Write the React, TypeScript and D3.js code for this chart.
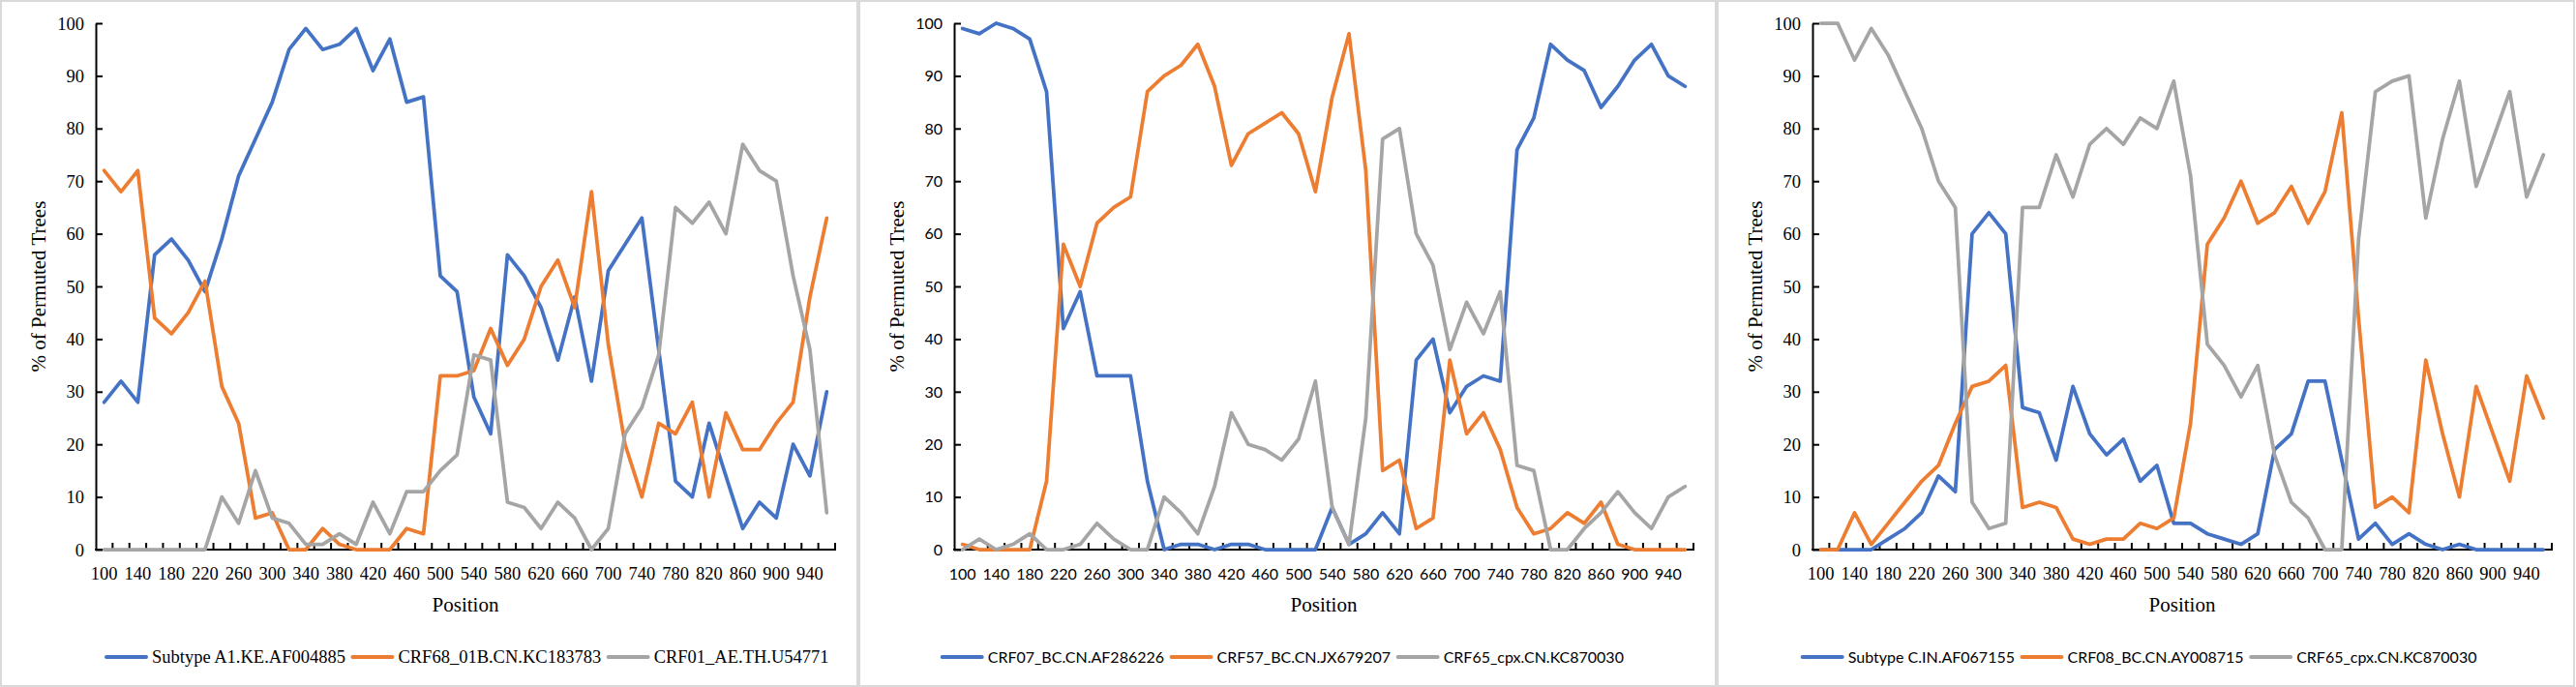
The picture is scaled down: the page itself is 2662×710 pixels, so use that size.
import React, { useEffect, useRef } from "react";
import * as d3 from "d3";

const positions = [100, 120, 140, 160, 180, 200, 220, 240, 260, 280, 300, 320, 340, 360, 380, 400, 420, 440, 460, 480, 500, 520, 540, 560, 580, 600, 620, 640, 660, 680, 700, 720, 740, 760, 780, 800, 820, 840, 860, 880, 900, 920, 940, 960];
const yTicks = [0, 10, 20, 30, 40, 50, 60, 70, 80, 90, 100];

// Panel 1
const p1Names = ["Subtype A1.KE.AF004885", "CRF68_01B.CN.KC183783", "CRF01_AE.TH.U54771"];
const p1Blue = [28, 32, 28, 56, 59, 55, 49, 59, 71, 78, 85, 95, 99, 95, 96, 99, 91, 97, 85, 86, 52, 49, 29, 22, 56, 52, 46, 36, 48, 32, 53, 58, 63, 38, 13, 10, 24, 14, 4, 9, 6, 20, 14, 30];
const p1Orange = [72, 68, 72, 44, 41, 45, 51, 31, 24, 6, 7, 0, 0, 4, 1, 0, 0, 0, 4, 3, 33, 33, 34, 42, 35, 40, 50, 55, 46, 68, 39, 20, 10, 24, 22, 28, 10, 26, 19, 19, 24, 28, 48, 63];
const p1Gray = [0, 0, 0, 0, 0, 0, 0, 10, 5, 15, 6, 5, 1, 1, 3, 1, 9, 3, 11, 11, 15, 18, 37, 36, 9, 8, 4, 9, 6, 0, 4, 22, 27, 37, 65, 62, 66, 60, 77, 72, 70, 52, 38, 7];

// Panel 2
const p2Names = ["CRF07_BC.CN.AF286226", "CRF57_BC.CN.JX679207", "CRF65_cpx.CN.KC870030"];
const p2Blue = [99, 98, 100, 99, 97, 87, 42, 49, 33, 33, 33, 13, 0, 1, 1, 0, 1, 1, 0, 0, 0, 0, 8, 1, 3, 7, 3, 36, 40, 26, 31, 33, 32, 76, 82, 96, 93, 91, 84, 88, 93, 96, 90, 88];
const p2Orange = [1, 0, 0, 0, 0, 13, 58, 50, 62, 65, 67, 87, 90, 92, 96, 88, 73, 79, 81, 83, 79, 68, 86, 98, 72, 15, 17, 4, 6, 36, 22, 26, 19, 8, 3, 4, 7, 5, 9, 1, 0, 0, 0, 0];
const p2Gray = [0, 2, 0, 1, 3, 0, 0, 1, 5, 2, 0, 0, 10, 7, 3, 12, 26, 20, 19, 17, 21, 32, 8, 1, 25, 78, 80, 60, 54, 38, 47, 41, 49, 16, 15, 0, 0, 4, 7, 11, 7, 4, 10, 12];

// Panel 3
const p3Names = ["Subtype C.IN.AF067155", "CRF08_BC.CN.AY008715", "CRF65_cpx.CN.KC870030"];
const p3Blue = [0, 0, 0, 0, 2, 4, 7, 14, 11, 60, 64, 60, 27, 26, 17, 31, 22, 18, 21, 13, 16, 5, 5, 3, 2, 1, 3, 19, 22, 32, 32, 17, 2, 5, 1, 3, 1, 0, 1, 0, 0, 0, 0, 0];
const p3Orange = [0, 0, 7, 1, 5, 9, 13, 16, 24, 31, 32, 35, 8, 9, 8, 2, 1, 2, 2, 5, 4, 6, 24, 58, 63, 70, 62, 64, 69, 62, 68, 83, 44, 8, 10, 7, 36, 22, 10, 31, 22, 13, 33, 25];
const p3Gray = [100, 100, 93, 99, 94, 87, 80, 70, 65, 9, 4, 5, 65, 65, 75, 67, 77, 80, 77, 82, 80, 89, 71, 39, 35, 29, 35, 18, 9, 6, 0, 0, 59, 87, 89, 90, 63, 78, 89, 69, 78, 87, 67, 75];

const colors = ["#4472C4", "#ED7D31", "#A5A5A5"];

const SERIF = "'Liberation Serif', 'Times New Roman', serif";
const SANS = "Lato, 'Noto Sans', sans-serif";
const SERIF_SIZE = 18.5;
const SANS_SIZE = 16;

type Fnt = { family: string; size: number };
const serifF: Fnt = { family: SERIF, size: SERIF_SIZE };
const sansF: Fnt = { family: SANS, size: SANS_SIZE };

const panels = [
  { names: p1Names, series: [p1Blue, p1Orange, p1Gray], legendStart: 108, yFont: serifF, xFont: serifF, legendFont: serifF },
  { names: p2Names, series: [p2Blue, p2Orange, p2Gray], legendStart: 84.7, yFont: sansF, xFont: sansF, legendFont: sansF },
  { names: p3Names, series: [p3Blue, p3Orange, p3Gray], legendStart: 86.7, yFont: serifF, xFont: serifF, legendFont: sansF },
];

const W = 2662;
const H = 710;
const PANEL_W = 887;
const panelLefts = [0, 887, 1774];

export default function App() {
  const ref = useRef<SVGSVGElement | null>(null);

  useEffect(() => {
    const svg = d3.select(ref.current);
    svg.selectAll("*").remove();

    const x = d3.scaleBand<number>().domain(positions).range([99, 863]).padding(0);
    const y = d3.scaleLinear().domain([0, 100]).range([568, 24]);
    const bw = x.bandwidth();
    const cx = (p: number) => (x(p) as number) + bw / 2;

    panels.forEach((panel, pi) => {
      const g = svg.append("g").attr("transform", `translate(${panelLefts[pi]},0)`);

      g.append("rect")
        .attr("x", 1)
        .attr("y", 1)
        .attr("width", PANEL_W - 2)
        .attr("height", H - 2)
        .attr("fill", "#ffffff")
        .attr("stroke", "#d9d9d9")
        .attr("stroke-width", 2);

      // Y axis
      const yAxis = d3
        .axisLeft(y)
        .tickValues(yTicks)
        .tickSizeInner(-7)
        .tickSizeOuter(0)
        .tickPadding(12);
      const ya = g.append("g").attr("transform", "translate(99,0)").call(yAxis);
      ya.attr("font-family", panel.yFont.family).attr("font-size", panel.yFont.size);
      ya.selectAll("path").attr("stroke", "#000").attr("stroke-width", 2);
      ya.selectAll("line").attr("stroke", "#000").attr("stroke-width", 2);
      ya.selectAll("text").attr("fill", "#000").attr("dy", "0.33em");

      // X axis
      const xa = g.append("g");
      xa.append("line")
        .attr("x1", 98)
        .attr("x2", 864)
        .attr("y1", 568)
        .attr("y2", 568)
        .attr("stroke", "#000")
        .attr("stroke-width", 2);
      const boundaries = positions.map((p) => x(p) as number).concat([x.range()[1]]);
      xa.selectAll("line.tick")
        .data(boundaries.slice(1))
        .enter()
        .append("line")
        .attr("class", "tick")
        .attr("x1", (d) => d)
        .attr("x2", (d) => d)
        .attr("y1", 568)
        .attr("y2", 561)
        .attr("stroke", "#000")
        .attr("stroke-width", 2);
      xa.selectAll("text")
        .data(positions.filter((_, i) => i % 2 === 0))
        .enter()
        .append("text")
        .attr("x", (d) => cx(d))
        .attr("y", 599)
        .attr("text-anchor", "middle")
        .attr("font-family", panel.xFont.family)
        .attr("font-size", panel.xFont.size)
        .attr("fill", "#000")
        .text((d) => String(d));

      // Titles
      g.append("text")
        .attr("x", (99 + 863) / 2)
        .attr("y", 632)
        .attr("text-anchor", "middle")
        .attr("font-family", SERIF)
        .attr("font-size", 21)
        .attr("fill", "#000")
        .text("Position");
      g.append("text")
        .attr("transform", `translate(46.5,${(24 + 568) / 2}) rotate(-90)`)
        .attr("text-anchor", "middle")
        .attr("font-family", SERIF)
        .attr("font-size", 21)
        .attr("fill", "#000")
        .text("% of Permuted Trees");

      // Lines
      const line = d3
        .line<number>()
        .x((_, i) => cx(positions[i]))
        .y((d) => y(d));
      panel.series.forEach((s, si) => {
        g.append("path")
          .datum(s)
          .attr("d", line)
          .attr("fill", "none")
          .attr("stroke", colors[si])
          .attr("stroke-width", 3.75)
          .attr("stroke-linejoin", "round")
          .attr("stroke-linecap", "round");
      });

      // Legend
      let sx = panel.legendStart;
      panel.names.forEach((name, si) => {
        g.append("line")
          .attr("x1", sx + 2)
          .attr("x2", sx + 43)
          .attr("y1", 679)
          .attr("y2", 679)
          .attr("stroke", colors[si])
          .attr("stroke-width", 4)
          .attr("stroke-linecap", "round");
        const t = g
          .append("text")
          .attr("x", sx + 49)
          .attr("y", 685)
          .attr("font-family", panel.legendFont.family)
          .attr("font-size", panel.legendFont.size)
          .attr("fill", "#000")
          .text(name);
        const tw = (t.node() as SVGTextElement).getComputedTextLength();
        sx = sx + 49 + tw + 5.5;
      });
    });
  }, []);

  return (
    <svg
      ref={ref}
      width={W}
      height={H}
      style={{ position: "absolute", left: 0, top: 0, background: "#fff" }}
    />
  );
}
